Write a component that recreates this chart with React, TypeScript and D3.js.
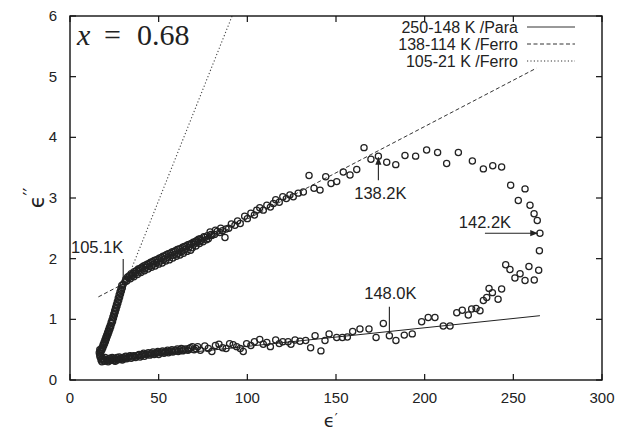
import React from 'react';
import * as d3 from 'd3';

// axis ticks
const xTicks = [0, 50, 100, 150, 200, 250, 300];
const yTicks = [0, 1, 2, 3, 4, 5, 6];

// 250-148 K, paraelectric branch (eps', eps'')
const paraBranch: [number, number][] = [
  [17.5, 0.33], [18, 0.30], [18.5, 0.36], [19.5, 0.31], [20.5, 0.34], [21.5, 0.30], [22.5, 0.36],
  [23.5, 0.33], [24.5, 0.35], [25.5, 0.31], [26.5, 0.37], [27.5, 0.34], [28.5, 0.36], [29.5, 0.33],
  [31, 0.38], [32, 0.35], [33.5, 0.39], [34.5, 0.36], [36, 0.40], [37, 0.37], [38.5, 0.41],
  [39.5, 0.38], [41, 0.42], [42, 0.39], [43.5, 0.43], [45, 0.41], [46, 0.44], [47.5, 0.42],
  [49, 0.45], [50, 0.42], [51.5, 0.46], [53, 0.44], [54, 0.47], [55.5, 0.45], [57, 0.48],
  [58, 0.46], [59.5, 0.49], [61, 0.47], [62, 0.50], [63.5, 0.48], [65, 0.51], [66.5, 0.49],
  [68, 0.53], [70, 0.50], [72, 0.55], [73.5, 0.49], [76, 0.56], [78, 0.52], [80, 0.47],
  [82, 0.57], [84, 0.59], [86, 0.53], [88, 0.52], [90, 0.60], [92, 0.58], [94, 0.55],
  [96, 0.52], [97.7, 0.47], [99.6, 0.60], [102, 0.57], [104, 0.63], [107, 0.67], [109, 0.59],
  [111, 0.62], [113, 0.55], [116, 0.66], [118, 0.60], [120, 0.63], [123, 0.63], [124.6, 0.59],
  [126.9, 0.66], [129.7, 0.64], [132.9, 0.65], [135.7, 0.53], [138.2, 0.73], [141.5, 0.48],
  [143.8, 0.65], [146.1, 0.76], [150.4, 0.70], [153.6, 0.70], [156.4, 0.71], [159.4, 0.80],
  [163.5, 0.84], [168.6, 0.84], [172.6, 0.70], [176.7, 0.93], [180.1, 0.73],
];

// extra readings in the crowded low-eps' part of the para branch
const paraDense: [number, number][] = [
  [17, 0.38], [17.8, 0.35], [18.8, 0.33], [19.8, 0.37], [20.8, 0.32], [21.8, 0.35], [22.8, 0.32],
  [23.8, 0.37], [24.8, 0.32], [25.8, 0.35], [26.8, 0.33], [27.8, 0.38], [28.8, 0.34], [29.8, 0.37],
  [30.5, 0.35], [31.5, 0.39], [32.8, 0.37], [34, 0.40], [35.2, 0.38], [36.5, 0.39], [37.8, 0.40],
  [39, 0.42], [40.2, 0.40], [41.5, 0.44], [42.8, 0.42], [44.2, 0.45], [45.5, 0.43], [46.8, 0.46],
  [48.2, 0.44], [49.5, 0.47], [50.8, 0.45], [52.2, 0.48], [53.5, 0.46], [55, 0.49], [56.2, 0.47],
  [57.5, 0.50], [59, 0.48], [60.5, 0.51], [62.8, 0.52], [64.2, 0.50], [67, 0.52], [69, 0.55],
  [71, 0.52],
];

// 148-138 K, the loop
const loopBranch: [number, number][] = [
  [183.8, 0.65], [188.5, 0.74], [193, 0.76], [198.3, 0.96], [202, 1.03], [205.8, 1.03],
  [210.5, 0.89], [214.3, 0.89], [218.1, 1.11], [221.2, 1.15], [224.6, 1.07], [226.5, 1.17],
  [229, 1.18], [231.2, 1.14], [233.1, 1.31], [235, 1.36], [236.3, 1.51], [238.2, 1.44],
  [241.4, 1.33], [243.4, 1.50], [245.7, 1.90], [248.1, 1.82], [250.9, 1.68], [253.8, 1.75],
  [256.6, 1.64], [258.8, 1.87], [261.8, 1.65], [264.3, 1.81], [264.7, 2.13], [265, 2.42],
  [263.5, 2.63], [261.7, 2.74], [259.4, 2.88], [252.8, 2.96], [256.6, 3.15], [248.5, 3.21],
  [243.4, 3.51], [238.4, 3.53], [233.1, 3.48], [226.9, 3.61], [219, 3.75], [212.4, 3.57],
  [207.3, 3.75], [201.1, 3.79], [194.9, 3.69], [188.9, 3.70], [183.7, 3.55], [178.6, 3.59],
  [173.9, 3.69], [169.7, 3.64], [165.8, 3.83],
];

// 138-105 K, ferro branch
const ferroBranch: [number, number][] = [
  [161.7, 3.47], [157.9, 3.38], [154.1, 3.43], [150.4, 3.27], [147.2, 3.24], [144.2, 3.35],
  [141, 3.13], [137.6, 3.16], [134.8, 3.37], [131.6, 3.10], [128.7, 3.08], [125.9, 3.02],
  [124, 3.05], [122, 2.99], [120, 3.02], [118, 2.93], [116, 2.97], [114.7, 2.91], [113, 2.85],
  [111, 2.88], [109, 2.80], [107, 2.84], [105.3, 2.80], [104, 2.72], [102, 2.75], [100, 2.66],
  [98.5, 2.70], [96, 2.58], [94.5, 2.62], [93, 2.55], [91, 2.57], [89.5, 2.50], [87.4, 2.35],
  [88, 2.49], [86, 2.46], [84.5, 2.43], [83, 2.45], [81.5, 2.40], [80, 2.38], [79, 2.44],
  [78, 2.33], [77, 2.31], [76, 2.35], [75, 2.28], [74, 2.30], [73, 2.25], [72, 2.27], [71, 2.21],
  [70, 2.24], [69, 2.18], [68, 2.14], [67, 2.19], [66, 2.12], [65, 2.15], [64, 2.09], [63, 2.12],
  [62, 2.06], [61, 2.09], [60, 2.04], [59, 2.07], [58, 2.01], [57, 2.05], [56, 1.98], [55, 2.02],
  [54, 1.96], [53, 1.99], [52, 1.93], [51, 1.96], [50, 1.91], [49, 1.94], [48, 1.88], [47, 1.91],
  [46, 1.86], [45, 1.88], [44, 1.83], [43, 1.86], [42, 1.80], [41, 1.83], [40, 1.77], [39, 1.80],
  [38, 1.74], [37, 1.76], [36, 1.70], [35, 1.72], [34, 1.67], [33, 1.68], [32, 1.63], [31, 1.62],
];

// extra readings in the crowded part of the ferro branch
const ferroDense: [number, number][] = [
  [31.5, 1.66], [32.5, 1.70], [33.5, 1.72], [34.5, 1.75], [35.5, 1.75], [36.5, 1.79], [37.5, 1.80],
  [38.5, 1.83], [39.5, 1.84], [40.5, 1.86], [41.5, 1.88], [42.5, 1.89], [43.5, 1.91], [44.5, 1.92],
  [45.5, 1.94], [46.5, 1.95], [47.5, 1.97], [48.5, 1.98], [49.5, 1.99], [50.5, 2.01], [51.5, 2.02],
  [52.5, 2.04], [53.5, 2.05], [54.5, 2.07], [55.5, 2.08], [56.5, 2.09], [57.5, 2.11], [58.5, 2.12],
  [59.5, 2.13], [60.5, 2.15], [61.5, 2.16], [62.5, 2.17], [63.5, 2.19], [64.5, 2.20], [65.5, 2.21],
  [66.5, 2.23], [67.5, 2.24], [68.5, 2.25], [69.5, 2.27], [70.5, 2.28], [71.5, 2.30], [72.5, 2.32],
  [73.5, 2.33], [75.5, 2.36], [77.5, 2.38], [79.5, 2.40], [82, 2.47], [85, 2.50],
];

// 105-21 K, steep low temperature branch
const lowTBranch: [number, number][] = [
  [30, 1.58], [29.5, 1.52], [29, 1.47], [28.5, 1.42], [28, 1.37], [27.5, 1.32], [27, 1.27],
  [26.5, 1.22], [26, 1.17], [25.5, 1.12], [25, 1.07], [24.5, 1.02], [24, 0.97], [23.5, 0.93],
  [23, 0.88], [22.5, 0.84], [22, 0.80], [21.5, 0.76], [21, 0.72], [20.5, 0.68], [20, 0.64],
  [19.5, 0.60], [19, 0.57], [18.5, 0.53], [18, 0.50], [17.5, 0.47], [17, 0.44], [16.8, 0.41],
  [29.2, 1.56], [28.7, 1.50], [28.2, 1.45], [27.7, 1.40], [27.2, 1.35], [26.7, 1.29], [26.2, 1.24],
  [25.7, 1.19], [25.2, 1.14], [24.7, 1.09], [24.2, 1.04], [23.7, 0.99], [23.2, 0.95], [22.7, 0.90],
  [22.2, 0.86], [21.7, 0.82], [21.2, 0.78], [20.7, 0.74], [20.2, 0.70], [19.7, 0.66], [19.2, 0.62],
  [18.7, 0.58], [18.2, 0.54], [17.7, 0.51], [17.2, 0.48], [16.8, 0.50], [16.5, 0.45],
];

// fitted straight lines
const paraFit: [number, number][] = [[17, 0.30], [265, 1.06]];
const ferroFitHigh: [number, number][] = [[16, 1.37], [263, 5.14]];
const ferroFitLow: [number, number][] = [[16, 0.46], [91.4, 6]];

const legendLabels = ['250-148 K /Para', '138-114 K /Ferro', '105-21 K /Ferro'];
const legendDash = ['none', '4,2.5', '1.2,2.2'];

const W = 617;
const H = 434;
const sans = '"Liberation Sans", Arial, sans-serif';

export default function App() {
  const x = d3.scaleLinear().domain([0, 300]).range([70, 602]);
  const y = d3.scaleLinear().domain([0, 6]).range([380, 16]);
  const line = d3.line<[number, number]>().x(d => x(d[0])).y(d => y(d[1]));
  const points = [...paraBranch, ...paraDense, ...loopBranch, ...ferroBranch, ...ferroDense, ...lowTBranch];

  const [x0, x1] = x.range();
  const [y0, y1] = y.range();

  // annotation anchor points
  const a105 = [x(30), y(1.6)];
  const a138 = [x(173.9), y(3.69)];
  const a142 = [x(265), y(2.42)];
  const a148 = [x(180.1), y(0.73)];

  return (
    <svg width={W} height={H} style={{ position: 'absolute', left: 0, top: 0, background: '#fff' }}>
      <defs>
        <marker id="ah" viewBox="0 0 10 10" refX="10" refY="5" markerWidth="7" markerHeight="7" orient="auto">
          <path d="M0,1 L10,5 L0,9 z" fill="#222" />
        </marker>
      </defs>

      {/* fitted lines */}
      <path d={line(paraFit) ?? ''} stroke="#222" strokeWidth={1} fill="none" />
      <path d={line(ferroFitHigh) ?? ''} stroke="#333" strokeWidth={1} strokeDasharray="4,2.5" fill="none" />
      <path d={line(ferroFitLow) ?? ''} stroke="#444" strokeWidth={1.1} strokeDasharray="1.2,2.2" fill="none" />

      {/* data */}
      <g fill="none" stroke="#222" strokeWidth={1.25}>
        {points.map((d, i) => (
          <circle key={i} cx={x(d[0])} cy={y(d[1])} r={3.1} />
        ))}
      </g>

      {/* frame and ticks */}
      <rect x={x0} y={y1} width={x1 - x0} height={y0 - y1} fill="none" stroke="#111" strokeWidth={1.4} />
      <g stroke="#111" strokeWidth={1.2}>
        {xTicks.map(t => (
          <g key={t}>
            <line x1={x(t)} x2={x(t)} y1={y0} y2={y0 - 6} />
            <line x1={x(t)} x2={x(t)} y1={y1} y2={y1 + 6} />
          </g>
        ))}
        {yTicks.map(t => (
          <g key={t}>
            <line x1={x0} x2={x0 + 6} y1={y(t)} y2={y(t)} />
            <line x1={x1} x2={x1 - 6} y1={y(t)} y2={y(t)} />
          </g>
        ))}
      </g>
      <g fontFamily={sans} fontSize={15} fill="#222">
        {xTicks.map(t => (
          <text key={t} x={x(t)} y={y0 + 23} textAnchor="middle">{t}</text>
        ))}
        {yTicks.map(t => (
          <text key={t} x={x0 - 13} y={y(t) + 5} textAnchor="end">{t}</text>
        ))}
      </g>

      {/* axis titles */}
      <text x={x(147)} y={H - 7} textAnchor="middle" fontFamily='"DejaVu Sans", sans-serif' fontSize={18} fill="#222">
        ϵ<tspan dy={-5} fontSize={13}>′</tspan>
      </text>
      <text transform={`translate(44,${y(3)}) rotate(-90)`} textAnchor="middle" fontFamily='"DejaVu Sans", sans-serif' fontSize={21} fill="#222">
        ϵ<tspan dy={-8} fontSize={17}>′′</tspan>
      </text>

      {/* composition */}
      <g fontFamily='"Liberation Serif", "DejaVu Serif", serif' fontSize={30} fill="#222">
        <text x={77} y={45} fontStyle="italic">x</text>
        <text x={104} y={45}>=</text>
        <text x={137} y={45}>0.68</text>
      </g>

      {/* legend */}
      <g fontFamily={sans} fontSize={16} fill="#222">
        {legendLabels.map((l, i) => (
          <g key={l}>
            <text x={518} y={32.5 + i * 17} textAnchor="end">{l}</text>
            <line x1={527} x2={575} y1={27 + i * 17} y2={27 + i * 17} stroke="#333" strokeWidth={1}
              strokeDasharray={legendDash[i]} />
          </g>
        ))}
      </g>

      {/* temperature annotations */}
      <g fontFamily={sans} fontSize={16.5} fill="#222" stroke="none">
        <text x={71} y={253}>105.1K</text>
        <text x={a138[0] + 2} y={199} textAnchor="middle">138.2K</text>
        <text x={a142[0] - 55} y={228} textAnchor="middle">142.2K</text>
        <text x={a148[0] + 1} y={299} textAnchor="middle">148.0K</text>
      </g>
      <g stroke="#222" strokeWidth={1.1}>
        <line x1={a105[0]} x2={a105[0]} y1={a105[1] - 24} y2={a105[1]} />
        <line x1={a138[0]} x2={a138[0]} y1={a138[1] + 24} y2={a138[1] + 1} markerEnd="url(#ah)" />
        <line x1={a142[0] - 55} x2={a142[0] - 2} y1={a142[1]} y2={a142[1]} markerEnd="url(#ah)" />
        <line x1={a148[0]} x2={a148[0]} y1={a148[1] - 29} y2={a148[1] - 2} />
      </g>
    </svg>
  );
}
